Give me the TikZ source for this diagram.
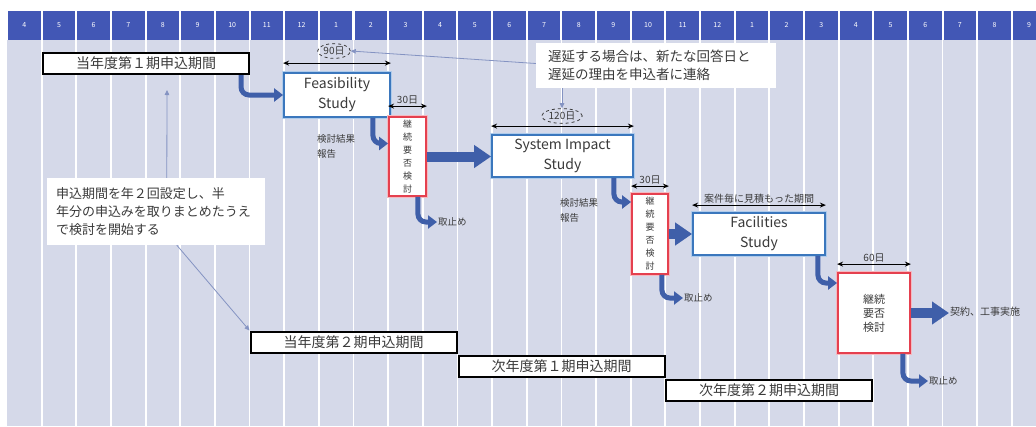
\documentclass[tikz,border=0pt]{standalone}
\usepackage{fontspec}
\setmainfont{Noto Sans CJK JP}
\usepackage{tikz}
\usetikzlibrary{shapes.geometric, arrows.meta, positioning}
\usepackage{xcolor}
\definecolor{hdrblue}{HTML}{4257B5}
\definecolor{gridbg}{HTML}{D5D9E9}
\definecolor{flowblue}{HTML}{3F5FA9}
\definecolor{studyblue}{HTML}{3B77BD}
\definecolor{studyglow}{HTML}{AFCBEB}
\definecolor{checkred}{HTML}{E5404F}
\definecolor{checkglow}{HTML}{F4B9C0}
\definecolor{notegrey}{HTML}{8493C2}
\definecolor{txtgrey}{HTML}{3A3A3A}

\begin{document}
\begin{tikzpicture}[
    x=1pt, y=-1pt,
    month/.style={fill=hdrblue, text=white, minimum width=32.6, minimum height=29, inner sep=0pt, font=\fontsize{7}{8}\selectfont},
    grid/.style={draw=white, line width=1.8pt},
    period/.style={draw=black, line width=2pt, fill=white, minimum width=206, minimum height=21, inner sep=0pt, font=\fontsize{14}{16}\selectfont, text=txtgrey},
    study/.style={draw=studyblue, line width=1.8pt, fill=white, preaction={draw=studyglow, line width=4.5pt}, inner sep=0pt, align=center, font=\fontsize{14}{20}\selectfont, text=txtgrey},
    checkv/.style={draw=checkred, line width=1.8pt, fill=white, preaction={draw=checkglow, line width=4.5pt}, inner sep=0pt, align=center, font=\fontsize{9}{13}\selectfont, text=txtgrey},
    note/.style={fill=white, inner ysep=0pt, align=left, text=txtgrey, font=\fontsize{13.5}{18.5}\selectfont},
    small/.style={text=txtgrey, inner sep=1pt, align=left, font=\fontsize{9.5}{15}\selectfont},
    dim/.style={line width=1.1pt, {Stealth[length=6pt,width=5pt]}-{Stealth[length=6pt,width=5pt]}},
    dimlabel/.style={above=1pt, inner sep=0pt, text=txtgrey, font=\fontsize{10}{11}\selectfont},
    bubble/.style={ellipse, draw=txtgrey, dashed, line width=0.8pt, inner sep=1pt, text=txtgrey, font=\fontsize{10}{11}\selectfont},
    hint/.style={draw=notegrey, line width=0.8pt, -{Triangle[length=5pt,width=4.5pt]}},
    flow/.style={draw=flowblue, line width=5pt, rounded corners=8pt, -{Triangle[length=9pt,width=13pt]}},
    bigflow/.style={draw=flowblue, line width=10pt, -{Triangle[length=17pt,width=22pt]}},
]
% month grid
\useasboundingbox (0,0) rectangle (1036,426);
\fill[white] (0,0) rectangle (1036,426);
\fill[gridbg] (7,40) rectangle (1036,426);
\foreach \i in {1,...,30}
    \draw[grid] ({7+34.65*\i},40) -- ({7+34.65*\i},426);
\foreach \m [count=\i from 0] in {4,5,6,7,8,9,10,11,12,1,2,3,4,5,6,7,8,9,10,11,12,1,2,3,4,5,6,7,8,9}
    \node[month] (m\i) at ({7+34.65*\i+17.3},25) {\m};

% application periods
\node[period] (p1) at (146,63.5) {当年度第１期申込期間};
\node[period] (p2) at (353.5,342) {当年度第２期申込期間};
\node[period] (p3) at (561.5,366.5) {次年度第１期申込期間};
\node[period] (p4) at (769,390) {次年度第２期申込期間};

% notes
\node[note, text width=216pt, inner xsep=12pt, minimum height=45] (nt1) at (656,65.5) {遅延する場合は、新たな回答日と\\遅延の理由を申込者に連絡};
\node[note, text width=200pt, inner xsep=9pt, minimum height=67, font=\fontsize{13}{18}\selectfont] (nt2) at (156,211.5) {申込期間を年２回設定し、半\\年分の申込みを取りまとめたうえ\\で検討を開始する};

% studies and checks
\node[study, minimum width=106, minimum height=44] (fs) at (337,95) {Feasibility\\Study};
\node[study, minimum width=141, minimum height=42] (sis) at (562.5,156) {System Impact\\Study};
\node[study, minimum width=132, minimum height=42] (fac) at (759,234) {Facilities\\Study};
\node[checkv, minimum width=37, minimum height=79] (rv1) at (407.5,156.5) {継\\続\\要\\否\\検\\討};
\node[checkv, minimum width=36, minimum height=80] (rv2) at (650,234) {継\\続\\要\\否\\検\\討};
\node[checkv, minimum width=72, minimum height=80, font=\fontsize{11}{14}\selectfont] (rv3) at (874,313) {継続\\要否\\検討};

% outcomes
\node[small, anchor=west] (q1) at (437,222) {取止め};
\node[small, anchor=west] (q2) at (683,298) {取止め};
\node[small, anchor=west] (q3) at (928,381) {取止め};
\node[small, anchor=west, font=\fontsize{10}{12}\selectfont] (q4) at (949,312) {契約、工事実施};
\node[small, anchor=west] (kr1) at (316,146) {検討結果\\報告};
\node[small, anchor=west] (kr2) at (559,210) {検討結果\\報告};

% durations
\draw[dim] ([yshift=9pt]fs.north west) -- ([yshift=9pt]fs.north east);
\node[bubble] (e90) at (334,51) {90日};
\draw[dim] ([yshift=10pt]rv1.north west) -- node[dimlabel] (l30a) {30日} ([yshift=10pt]rv1.north east);
\draw[dim] ([yshift=8pt]sis.north west) -- ([yshift=8pt]sis.north east);
\node[bubble] (e120) at (562,116) {120日};
\draw[dim] ([yshift=7pt]rv2.north west) -- node[dimlabel] (l30b) {30日} ([yshift=7pt]rv2.north east);
\draw[dim] ([yshift=7pt]fac.north west) -- node[dimlabel] (lfac) {案件毎に見積もった期間} ([yshift=7pt]fac.north east);
\draw[dim] ([yshift=8pt]rv3.north west) -- node[dimlabel] (l60) {60日} ([yshift=8pt]rv3.north east);

% hints
\coordinate (tipA) at (167,90);
\draw[hint] ([yshift=2pt]nt1.west) -- (e90.east);
\draw[hint] (e120.north |- nt1.south) -- (e120.north);
\draw[hint] ([xshift=120pt]nt2.north west) -- (tipA);
\draw[hint] ([xshift=130pt]nt2.south west) -- (p2.north west);

% flows
\draw[flow] ([xshift=-9pt]p1.south east) |- (fs.west);
\draw[flow] ([xshift=-18pt]fs.south east) |- ([yshift=13pt]rv1.west);
\draw[flow] ([xshift=-9pt]rv1.south east) |- (q1.west);
\draw[bigflow] (rv1.east) -- (rv1.east -| sis.west);
\draw[flow] ([xshift=-20pt]sis.south east) |- ([yshift=32pt]rv2.west);
\draw[flow] ([xshift=-7pt]rv2.south east) |- (q2.west);
\draw[bigflow] (rv2.east) -- (rv2.east -| fac.west);
\draw[flow] ([xshift=-8pt]fac.south east) |- ([yshift=30pt]rv3.west);
\draw[flow] ([xshift=-8pt]rv3.south east) |- (q3.west);
\draw[bigflow] (rv3.east) -- (rv3.east -| q4.west);
\end{tikzpicture}
\end{document}
